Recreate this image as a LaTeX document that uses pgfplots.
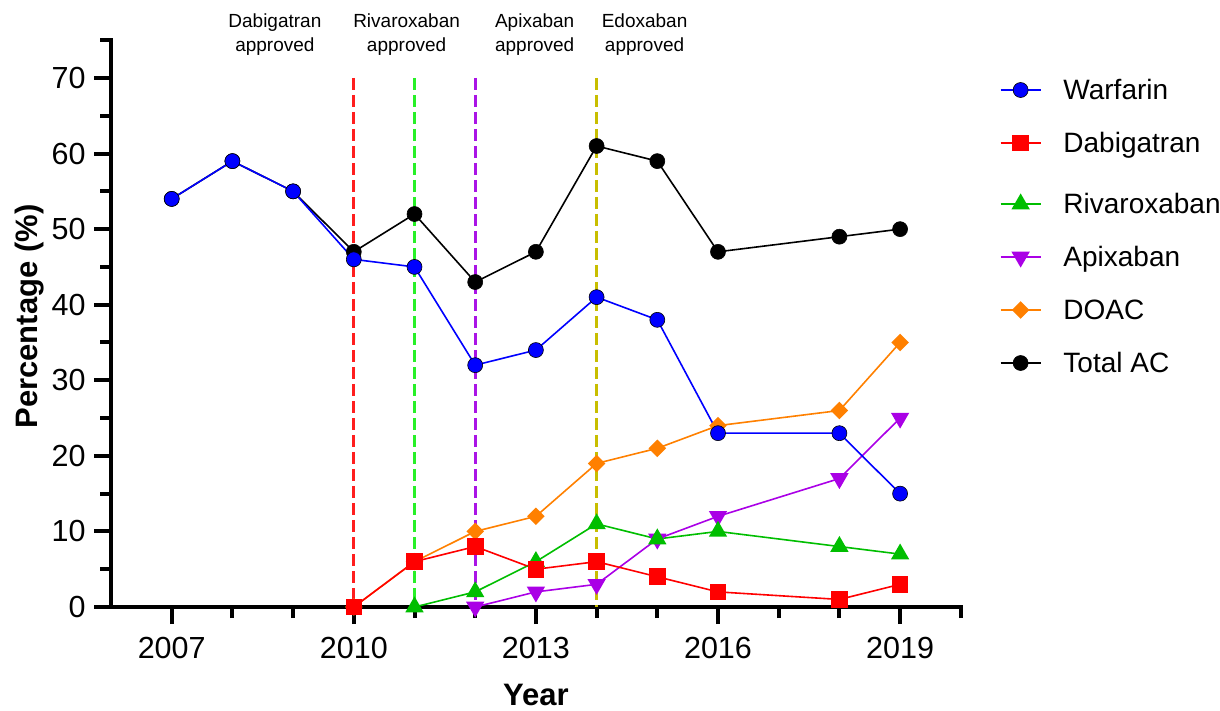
\documentclass[border=0pt]{standalone}
\usepackage{pgfplots}
\pgfplotsset{compat=1.18}
\usepackage{fontspec}
\setmainfont{Liberation Sans}
\definecolor{cWar}{RGB}{0,0,255}
\definecolor{cDab}{RGB}{255,0,0}
\definecolor{cRiv}{RGB}{0,190,0}
\definecolor{cApi}{RGB}{170,0,230}
\definecolor{cDoac}{RGB}{255,128,0}
\definecolor{vRed}{RGB}{255,30,30}
\definecolor{vGreen}{RGB}{40,240,40}
\definecolor{vPurple}{RGB}{170,20,230}
\definecolor{vOlive}{RGB}{200,190,0}
\begin{document}
\begin{tikzpicture}
\begin{axis}[
  at={(111pt,103pt)}, anchor=south west,
  scale only axis, width=849.8pt, height=566.8pt,
  xmin=2006, xmax=2020, ymin=0, ymax=75,
  clip=false,
  axis lines*=left,
  axis line style={line width=4.5pt, line cap=rect},
  tick style={line width=4pt, black},
  major tick length=17pt, minor tick length=11pt,
  tick align=outside,
  xtick={2007,2010,2013,2016,2019},
  minor xtick={2008,2009,2011,2012,2014,2015,2017,2018,2020},
  ytick={0,10,20,30,40,50,60,70},
  minor ytick={5,15,25,35,45,55,65,75},
  /pgf/number format/assume math mode=true,
  /pgf/number format/1000 sep={},
  ticklabel style={font=\fontsize{30.5}{36}\selectfont},
  xticklabel style={yshift=-10pt},
  yticklabel style={xshift=-5pt},
  xlabel={Year}, ylabel={Percentage (\%)},
  label style={font=\fontsize{31}{37}\selectfont\bfseries},
  xlabel style={at={(axis description cs:0.5,0)}, anchor=base, yshift=-98pt},
  ylabel style={yshift=1pt, xshift=7pt},
  legend cell align=left,
  legend style={at={(axis description cs:1.0457,0.931)}, anchor=north west,
    draw=none, fill=none, font=\fontsize{28}{33}\selectfont,
    row sep=27pt, inner sep=0pt,
    cells={anchor=base west},
    nodes={inner sep=0pt, text height=20pt, text depth=6pt}},
  legend image code/.code={\draw[mark repeat=2,mark phase=2] plot coordinates {(0pt,9.5pt) (20pt,9.5pt) (40pt,9.5pt)}; \path (62pt,9.5pt);},
]
% approval lines
\addplot[vRed, line width=3pt, dash pattern=on 12pt off 5pt, forget plot] coordinates {(2010,70) (2010,0)};
\addplot[vGreen, line width=3pt, dash pattern=on 12pt off 5pt, forget plot] coordinates {(2011,70) (2011,0)};
\addplot[vPurple, line width=3pt, dash pattern=on 12pt off 5pt, forget plot] coordinates {(2012,70) (2012,0)};
\addplot[vOlive, line width=3pt, dash pattern=on 12pt off 5pt, forget plot] coordinates {(2014,70) (2014,0)};

% Total AC
\addplot[black, line width=1.6pt, mark=*, mark size=7.5pt, mark options={fill=black, draw=black, line width=0.6pt}, forget plot] coordinates {
(2007,54) (2008,59) (2009,55) (2010,47) (2011,52) (2012,43) (2013,47) (2014,61) (2015,59) (2016,47) (2018,49) (2019,50)};
% DOAC
\addplot[cDoac, line width=1.6pt, mark=square*, mark size=5.4pt, mark options={rotate=45, fill=cDoac, draw=cDoac}, forget plot] coordinates {
(2010,0) (2011,6) (2012,10) (2013,12) (2014,19) (2015,21) (2016,24) (2018,26) (2019,35)};
% Apixaban
\addplot[cApi, line width=1.6pt, mark=triangle*, mark size=9pt, mark options={rotate=180, fill=cApi, draw=cApi}, forget plot] coordinates {
(2012,0) (2013,2) (2014,3) (2015,9) (2016,12) (2018,17) (2019,25)};
% Rivaroxaban
\addplot[cRiv, line width=1.6pt, mark=triangle*, mark size=9pt, mark options={fill=cRiv, draw=cRiv}, forget plot] coordinates {
(2011,0) (2012,2) (2013,6) (2014,11) (2015,9) (2016,10) (2018,8) (2019,7)};
% Dabigatran
\addplot[cDab, line width=1.6pt, mark=square*, mark size=7.5pt, mark options={fill=cDab, draw=cDab}, forget plot] coordinates {
(2010,0) (2011,6) (2012,8) (2013,5) (2014,6) (2015,4) (2016,2) (2018,1) (2019,3)};
% Warfarin
\addplot[cWar, line width=1.6pt, mark=*, mark size=7.5pt, mark options={fill=cWar, draw=black, line width=0.6pt}, forget plot] coordinates {
(2007,54) (2008,59) (2009,55) (2010,46) (2011,45) (2012,32) (2013,34) (2014,41) (2015,38) (2016,23) (2018,23) (2019,15)};

\addlegendimage{cWar, line width=1.6pt, mark=*, mark size=7.5pt, mark options={fill=cWar, draw=black, line width=0.6pt}}
\addlegendentry{Warfarin}
\addlegendimage{cDab, line width=1.6pt, mark=square*, mark size=7.5pt, mark options={fill=cDab, draw=cDab}}
\addlegendentry{Dabigatran}
\addlegendimage{cRiv, line width=1.6pt, mark=triangle*, mark size=9pt, mark options={fill=cRiv, draw=cRiv}}
\addlegendentry[text height=28pt]{Rivaroxaban}
\addlegendimage{cApi, line width=1.6pt, mark=triangle*, mark size=9pt, mark options={rotate=180, fill=cApi, draw=cApi}}
\addlegendentry{Apixaban}
\addlegendimage{cDoac, line width=1.6pt, mark=square*, mark size=5.4pt, mark options={rotate=45, fill=cDoac, draw=cDoac}}
\addlegendentry{DOAC}
\addlegendimage{black, line width=1.6pt, mark=*, mark size=7.5pt, mark options={fill=black, draw=black, line width=0.6pt}}
\addlegendentry{Total AC}

\node[align=center, font=\fontsize{19}{24}\selectfont] at (axis cs:2008.7,75.8) {Dabigatran\\approved};
\node[align=center, font=\fontsize{19}{24}\selectfont] at (axis cs:2010.87,75.8) {Rivaroxaban\\approved};
\node[align=center, font=\fontsize{19}{24}\selectfont] at (axis cs:2012.98,75.8) {Apixaban\\approved};
\node[align=center, font=\fontsize{19}{24}\selectfont] at (axis cs:2014.79,75.8) {Edoxaban\\approved};
\end{axis}
\pgfresetboundingbox
\path[use as bounding box] (0,0) rectangle (1220pt,710pt);
\end{tikzpicture}
\end{document}
